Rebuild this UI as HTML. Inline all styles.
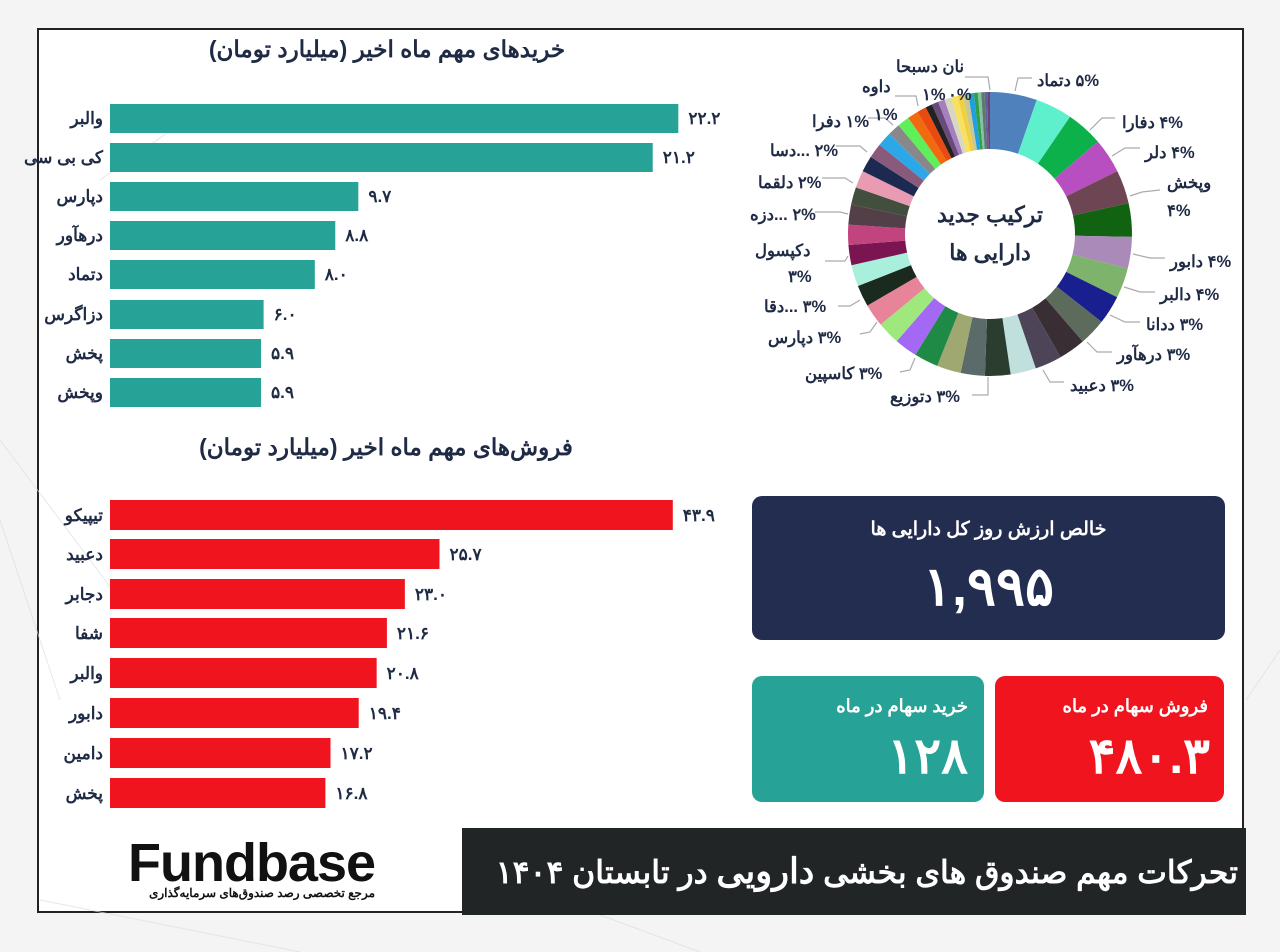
<!DOCTYPE html>
<html><head><meta charset="utf-8">
<style>
html,body{margin:0;padding:0;}
body{width:1280px;height:952px;position:relative;overflow:hidden;background:#f4f4f4;font-family:"Liberation Sans","Noto Sans CJK SC",sans-serif;}
.frame{position:absolute;left:37px;top:28px;width:1207px;height:885px;border:2px solid #222;background:#fff;box-sizing:border-box;}
svg{position:absolute;left:0;top:0;}
.box{position:absolute;border-radius:10px;color:#fff;font-weight:bold;text-align:center;}
</style></head><body>
<div class="frame"></div>
<svg width="1280" height="952" viewBox="0 0 1280 952" font-family="Liberation Sans, Noto Sans CJK SC, sans-serif">
<g stroke="#ddd" stroke-width="1" opacity="0.7">
<line x1="0" y1="440" x2="120" y2="600"/><line x1="0" y1="520" x2="60" y2="700"/><line x1="100" y1="180" x2="200" y2="110"/>
<line x1="40" y1="900" x2="300" y2="952"/><line x1="600" y1="915" x2="700" y2="952"/><line x1="1246" y1="700" x2="1280" y2="650"/>
</g>
<g font-weight="bold" fill="#1f2a44" font-size="23" text-anchor="middle" direction="rtl">
<text x="387" y="57">خریدهای مهم ماه اخیر (میلیارد تومان)</text>
<text x="386" y="455">فروش‌های مهم ماه اخیر (میلیارد تومان)</text>
</g>
<g id="bars"></g>
<g id="lines" stroke="#aaa" stroke-width="1.2" fill="none"></g>
<g id="donut"></g>
<g font-weight="bold" fill="#1f2a44" font-size="22" text-anchor="middle" direction="rtl">
<text x="990" y="222">ترکیب جدید</text>
<text x="990" y="260">دارایی ها</text>
</g>
<g id="dl" font-weight="bold" fill="#1f2a44" font-size="16.5" direction="rtl"></g>
</svg>
<div class="box" style="left:752px;top:496px;width:473px;height:144px;background:#232d4f;">
 <div style="margin-top:22px;font-size:19px;direction:rtl;">خالص ارزش روز کل دارایی ها</div>
 <div style="margin-top:14px;font-size:54px;">۱,۹۹۵</div>
</div>
<div class="box" style="left:752px;top:676px;width:232px;height:126px;background:#26a296;">
 <div style="text-align:right;margin:20px 16px 0 0;font-size:18px;direction:rtl;">خرید سهام در ماه</div>
 <div style="text-align:right;margin:10px 16px 0 0;font-size:50px;">۱۲۸</div>
</div>
<div class="box" style="left:995px;top:676px;width:229px;height:126px;background:#f0141e;">
 <div style="text-align:right;margin:20px 16px 0 0;font-size:18px;direction:rtl;">فروش سهام در ماه</div>
 <div style="text-align:right;margin:10px 14px 0 0;font-size:50px;">۴۸۰.۳</div>
</div>
<div style="position:absolute;left:462px;top:828px;width:784px;height:87px;background:#222526;color:#fff;font-weight:bold;font-size:31.5px;direction:rtl;text-align:right;line-height:87px;padding-right:8px;box-sizing:border-box;white-space:nowrap;overflow:hidden;">تحرکات مهم صندوق های بخشی <span style="font-size:35px">دارویی</span> در تابستان ۱۴۰۴</div>
<div style="position:absolute;left:128px;top:832px;font-size:54px;font-weight:bold;color:#111;letter-spacing:-1px;">Fundbase</div>
<div style="position:absolute;left:132px;top:886px;width:260px;font-size:12px;font-weight:bold;color:#111;direction:rtl;text-align:center;">مرجع تخصصی رصد صندوق‌های سرمایه‌گذاری</div>
<script>
var ns="http://www.w3.org/2000/svg";
function el(p,t,a,txt){var e=document.createElementNS(ns,t);for(var k in a)e.setAttribute(k,a[k]);if(txt!==undefined)e.textContent=txt;p.appendChild(e);return e;}
var bars=document.getElementById("bars");
var top1=[["والبر",22.2,"۲۲.۲"],["کی بی سی",21.2,"۲۱.۲"],["دپارس",9.7,"۹.۷"],["درهآور",8.8,"۸.۸"],["دتماد",8.0,"۸.۰"],["دزاگرس",6.0,"۶.۰"],["پخش",5.9,"۵.۹"],["وپخش",5.9,"۵.۹"]];
var ys1=[118,157,196,235,274,314,353,392];
top1.forEach(function(d,i){var w=d[1]*25.6;el(bars,"rect",{x:110,y:ys1[i]-14,width:w,height:29,fill:"#26a296"});
el(bars,"text",{x:103,y:ys1[i]+6,"text-anchor":"end","font-size":17,"font-weight":"bold",fill:"#1f2a44"},d[0]);
el(bars,"text",{x:110+w+10,y:ys1[i]+6,"font-size":17,"font-weight":"bold",fill:"#1f2a44"},d[2]);});
var b2=[["تیپیکو",43.9,"۴۳.۹"],["دعبید",25.7,"۲۵.۷"],["دجابر",23.0,"۲۳.۰"],["شفا",21.6,"۲۱.۶"],["والبر",20.8,"۲۰.۸"],["دابور",19.4,"۱۹.۴"],["دامین",17.2,"۱۷.۲"],["پخش",16.8,"۱۶.۸"]];
var ys2=[515,554,594,633,673,713,753,793];
b2.forEach(function(d,i){var w=d[1]*12.82;el(bars,"rect",{x:110,y:ys2[i]-15,width:w,height:30,fill:"#f0141e"});
el(bars,"text",{x:103,y:ys2[i]+6,"text-anchor":"end","font-size":17,"font-weight":"bold",fill:"#1f2a44"},d[0]);
el(bars,"text",{x:110+w+10,y:ys2[i]+6,"font-size":17,"font-weight":"bold",fill:"#1f2a44"},d[2]);});
var seg=[["#4f81bd",7],["#5ef0cc",5.5],["#0db14b",5.5],["#b84fc0",5.2],["#6e4552",5],["#116211",5],["#a98ab8",4.7],["#7db36a",4.5],["#1a1f8f",4.3],["#5d6b5c",4],["#3a2e35",4],["#4d4557",4],["#bfe0dc",3.8],["#2b3d2e",3.8],["#5b6b6a",3.6],["#9fa870",3.6],["#1f8a45",3.6],["#a369f5",3.4],["#9ee87e",3.4],["#e8849a",3.4],["#1a2a1e",3.2],["#a8f0dc",3.2],["#7a1552",3],["#c2447e",3],["#533f48",3],["#434f3e",2.6],["#e89bb3",2.6],["#1c2a52",2.4],["#8a5a7c",2.2],["#2ca8e8",2.2],["#888888",1.8],["#5ef05a",1.8],["#f26a10",1.6],["#e84a10",1.4],["#222222",1],["#6a4a7a",1],["#a57fc0",1],["#d8d8c0",1],["#f8e060",1],["#f0d040",0.8],["#c8c890",0.8],["#20a0e0",0.8],["#2ca04a",0.6],["#88c0a0",0.5],["#5a7a6a",0.5],["#6060a0",0.4],["#704070",0.4]];
var tot=0;seg.forEach(function(s){tot+=s[1];});
var cx=990,cy=234,R=142,r=85,a=0,dn=document.getElementById("donut");
function pt(rad,ang){return [cx+rad*Math.sin(ang),cy-rad*Math.cos(ang)];}
seg.forEach(function(s){var a2=a+s[1]/tot*2*Math.PI;var p1=pt(R,a),p2=pt(R,a2),p3=pt(r,a2),p4=pt(r,a);var lg=(a2-a)>Math.PI?1:0;
el(dn,"path",{d:"M"+p1+"A"+R+","+R+" 0 "+lg+" 1 "+p2+"L"+p3+"A"+r+","+r+" 0 "+lg+" 0 "+p4+"Z",fill:s[0]});a=a2;});
var dl=document.getElementById("dl"),ln=document.getElementById("lines");
var labs=[["۵% دتماد",1037,86,[1015,91,1018,78,1032,78]],["۴% دفارا",1122,128,[1090,130,1102,118,1115,118]],["۴% دلر",1145,158,[1112,156,1125,148,1140,148]],["وپخش",1167,188,[1130,196,1142,192,1160,190]],["۴%",1167,216],["۴% دابور",1170,267,[1133,254,1150,258,1165,258]],["۴% دالبر",1160,300,[1124,287,1140,292,1155,292]],["۳% ددانا",1146,330,[1110,315,1125,322,1140,322]],["۳% درهآور",1117,360,[1087,342,1097,352,1112,352]],["۳% دعبید",1070,391,[1043,370,1050,382,1064,382]],["۳% دتوزیع",890,402,[988,377,988,395,972,395]],["۳% کاسپین",805,379,[915,358,910,370,900,372]],["۳% دپارس",768,343,[877,322,870,332,860,334]],["۳% ...دقا",764,312,[860,300,850,306,838,306]],["دکپسول",755,256,[848,256,845,261,825,261]],["۳%",788,282],["۲% ...دزه",750,220,[848,214,840,212,815,212]],["۲% دلقما",758,188,[853,183,845,178,822,178]],["۲% ...دسا",770,156,[867,152,860,146,836,146]],["۱% دفرا",812,127,[893,125,885,118,868,118]],["داوه",862,92,[918,106,916,96,895,96]],["۱%",874,120],["۱%",922,100],["۰%",948,100],["نان دسبحا",896,72,[990,90,988,77,965,77]]];
labs.forEach(function(l){el(dl,"text",{x:l[1],y:l[2],"text-anchor":"end"},l[0]);
if(l[3]){var p=l[3];el(ln,"polyline",{points:p[0]+","+p[1]+" "+p[2]+","+p[3]+" "+p[4]+","+p[5]});}});
</script>
</body></html>
